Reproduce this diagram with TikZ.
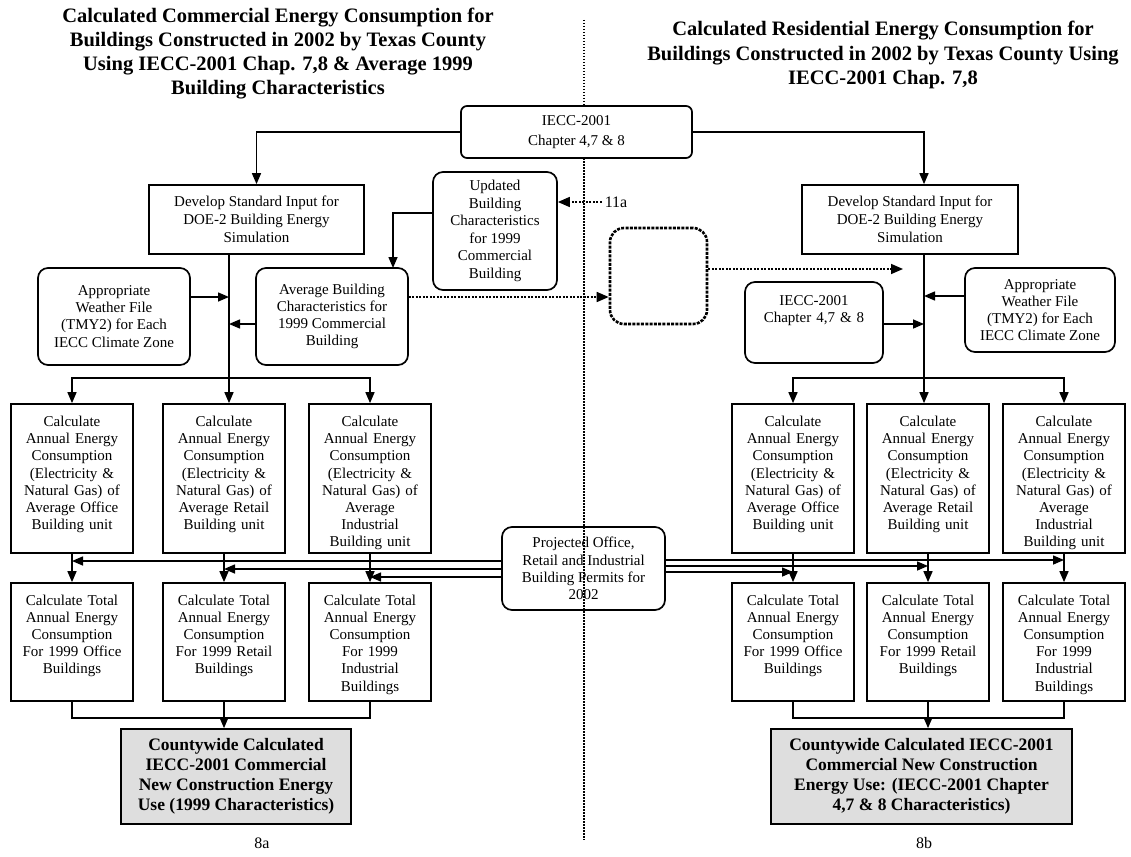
\documentclass[tikz,border=0pt]{standalone}
\usepackage{fontspec}
\setmainfont{Liberation Serif}
\usetikzlibrary{arrows.meta}

\begin{document}
\begin{tikzpicture}[x=1pt,y=-1pt,
  every node/.style={font=\fontsize{15}{17.2}\selectfont, align=center, inner sep=0pt},
  plainbox/.style={draw, line width=1.7pt, fill=white},
  roundbox/.style={plainbox, rounded corners=10pt},
  calcbox/.style={plainbox, minimum width=122pt, text width=118pt, text height=22.5pt, text depth=126.5pt},
  totbox/.style={plainbox, minimum width=122pt, text width=118pt, text height=22pt, text depth=96pt},
  finbox/.style={plainbox, fill=black!13, font=\bfseries\fontsize{17.5}{20}\selectfont},
  headtext/.style={font=\bfseries\fontsize{20.5}{24.3}\selectfont},
  arr/.style={line width=1.5pt, -{Triangle[length=11pt,width=9pt]}},
  darr/.style={line width=1.6pt, dash pattern=on 2pt off 1.5pt, -{Triangle[length=12pt,width=10pt]}},
  divider/.style={line width=1.8pt, dash pattern=on 1.5pt off 1.5pt}]
\useasboundingbox (0,0) rectangle (1131,856);

\node[headtext] (titleL) at (278,53.5) {Calculated Commercial Energy Consumption for\\Buildings Constructed in 2002 by Texas County\\Using IECC-2001 Chap. 7,8 \& Average 1999\\Building Characteristics};
\node[headtext] (titleR) at (883,55) {Calculated Residential Energy Consumption for\\Buildings Constructed in 2002 by Texas County Using\\IECC-2001 Chap. 7,8};

\draw[divider] (584,20) -- (584,840);

\node[roundbox, rounded corners=6pt, minimum width=231pt, minimum height=52pt, font=\fontsize{15}{20}\selectfont] (iecc) at (576.5,132) {IECC-2001\\Chapter 4,7 \& 8};

\node[plainbox, minimum width=215pt, minimum height=69pt, font=\fontsize{15}{18}\selectfont] (devL) at (256.5,219.5) {Develop Standard Input for\\DOE-2 Building Energy\\Simulation};
\node[plainbox, minimum width=216pt, minimum height=69pt, font=\fontsize{15}{18}\selectfont] (devR) at (910,219.5) {Develop Standard Input for\\DOE-2 Building Energy\\Simulation};

\node[roundbox, minimum width=152pt, minimum height=97pt] (wthL) at (114,316.5) {Appropriate\\Weather File\\(TMY2) for Each\\IECC Climate Zone};
\node[roundbox, minimum width=152pt, minimum height=97pt] (avg) at (332,316.5) {Average Building\\Characteristics for\\1999 Commercial\\Building};
\node[roundbox, minimum width=124pt, minimum height=118pt, font=\fontsize{15}{17.5}\selectfont] (upd) at (495,231) {Updated\\Building\\Characteristics\\for 1999\\Commercial\\Building};
\node[font=\fontsize{16}{18}\selectfont, inner sep=3pt] (l11a) at (616,202) {11a};
\node[draw, rounded corners=14pt, minimum width=97pt, minimum height=96pt, line width=2.6pt, dash pattern=on 3pt off 1.3pt] (dbox) at (658.5,276) {};

\node[roundbox, minimum width=138pt, text width=134pt, text height=23pt, text depth=58pt] (ieccR) at (814,322.5) {IECC-2001\\Chapter 4,7 \& 8};
\node[roundbox, minimum width=150pt, minimum height=84pt] (wthR) at (1040,310) {Appropriate\\Weather File\\(TMY2) for Each\\IECC Climate Zone};

\node[calcbox] (calcOL) at (72,478.5) {Calculate\\Annual Energy\\Consumption\\(Electricity \&\\Natural Gas) of\\Average Office\\Building unit};
\node[calcbox] (calcRL) at (224,478.5) {Calculate\\Annual Energy\\Consumption\\(Electricity \&\\Natural Gas) of\\Average Retail\\Building unit};
\node[calcbox] (calcIL) at (370,478.5) {Calculate\\Annual Energy\\Consumption\\(Electricity \&\\Natural Gas) of\\Average\\Industrial\\Building unit};
\node[calcbox] (calcOR) at (793,478.5) {Calculate\\Annual Energy\\Consumption\\(Electricity \&\\Natural Gas) of\\Average Office\\Building unit};
\node[calcbox] (calcRR) at (928,478.5) {Calculate\\Annual Energy\\Consumption\\(Electricity \&\\Natural Gas) of\\Average Retail\\Building unit};
\node[calcbox] (calcIR) at (1064,478.5) {Calculate\\Annual Energy\\Consumption\\(Electricity \&\\Natural Gas) of\\Average\\Industrial\\Building unit};

\node[roundbox, fill=none, minimum width=163pt, minimum height=83pt] (proj) at (583.5,568.5) {Projected Office,\\Retail and Industrial\\Building Permits for\\2002};

\node[totbox] (totOL) at (72,642) {Calculate Total\\Annual Energy\\Consumption\\For 1999 Office\\Buildings};
\node[totbox] (totRL) at (224,642) {Calculate Total\\Annual Energy\\Consumption\\For 1999 Retail\\Buildings};
\node[totbox] (totIL) at (370,642) {Calculate Total\\Annual Energy\\Consumption\\For 1999\\Industrial\\Buildings};
\node[totbox] (totOR) at (793,642) {Calculate Total\\Annual Energy\\Consumption\\For 1999 Office\\Buildings};
\node[totbox] (totRR) at (928,642) {Calculate Total\\Annual Energy\\Consumption\\For 1999 Retail\\Buildings};
\node[totbox] (totIR) at (1064,642) {Calculate Total\\Annual Energy\\Consumption\\For 1999\\Industrial\\Buildings};

\node[finbox, minimum width=230pt, minimum height=95pt] (finL) at (236,776.5) {Countywide Calculated\\IECC-2001 Commercial\\New Construction Energy\\Use (1999 Characteristics)};
\node[finbox, minimum width=301pt, minimum height=95pt] (finR) at (921.5,776.5) {Countywide Calculated IECC-2001\\Commercial New Construction\\Energy Use: (IECC-2001 Chapter\\4,7 \& 8 Characteristics)};
\node[font=\fontsize{16}{18}\selectfont] (labA) at (262,843) {8a};
\node[font=\fontsize{16}{18}\selectfont] (labB) at (924,843) {8b};

\coordinate (trunkL) at (229,378);
\coordinate (trunkR) at (924,378);
\coordinate (dEnd) at (903,269);

\draw[arr] (iecc.west) -| (devL.north);
\draw[arr] (iecc.east) -| (devR.north -| trunkR);
\draw[arr] (devL.south -| trunkL) -- (calcRL.north -| trunkL);
\draw[arr] (trunkL) -| (calcOL.north);
\draw[arr] (trunkL) -| (calcIL.north);
\draw[arr] (devR.south -| trunkR) -- (calcRR.north -| trunkR);
\draw[arr] (trunkR) -| (calcOR.north);
\draw[arr] (trunkR) -| (calcIR.north);

\draw[arr] (wthL.east |- 0,297) -- (trunkL |- 0,297);
\draw[arr] (avg.west |- 0,324) -- (trunkL |- 0,324);
\draw[arr] (wthR.west |- 0,296) -- (trunkR |- 0,296);
\draw[arr] (ieccR.east |- 0,324) -- (trunkR |- 0,324);
\draw[arr] (upd.west |- 0,213) -| (393,268);
\draw[darr] (l11a.west) -- (upd.east |- l11a.west);
\draw[darr] (avg.east |- 0,297) -- (dbox.west |- 0,297);
\draw[darr] (dbox.east |- dEnd) -- (dEnd);

\draw[arr] (proj.west |- 0,561) -- (calcOL.south |- 0,561);
\draw[arr] (proj.west |- 0,569) -- (calcRL.south |- 0,569);
\draw[arr] (proj.west |- 0,577) -- (calcIL.south |- 0,577);
\draw[arr] (proj.east |- 0,560) -- (calcIR.south |- 0,560);
\draw[arr] (proj.east |- 0,566) -- (calcRR.south |- 0,566);
\draw[arr] (proj.east |- 0,572) -- (calcOR.south |- 0,572);

\draw[arr] (calcOL) -- (totOL);
\draw[arr] (calcRL) -- (totRL);
\draw[arr] (calcIL) -- (totIL);
\draw[arr] (calcOR) -- (totOR);
\draw[arr] (calcRR) -- (totRR);
\draw[arr] (calcIR) -- (totIR);

\draw[line width=1.5pt] (totOL.south) -- ++(0,16) -| (totIL.south);
\draw[arr] (totRL.south) -- (finL.north -| totRL.south);
\draw[line width=1.5pt] (totOR.south) -- ++(0,16) -| (totIR.south);
\draw[arr] (totRR.south) -- (finR.north -| totRR.south);
\end{tikzpicture}
\end{document}
